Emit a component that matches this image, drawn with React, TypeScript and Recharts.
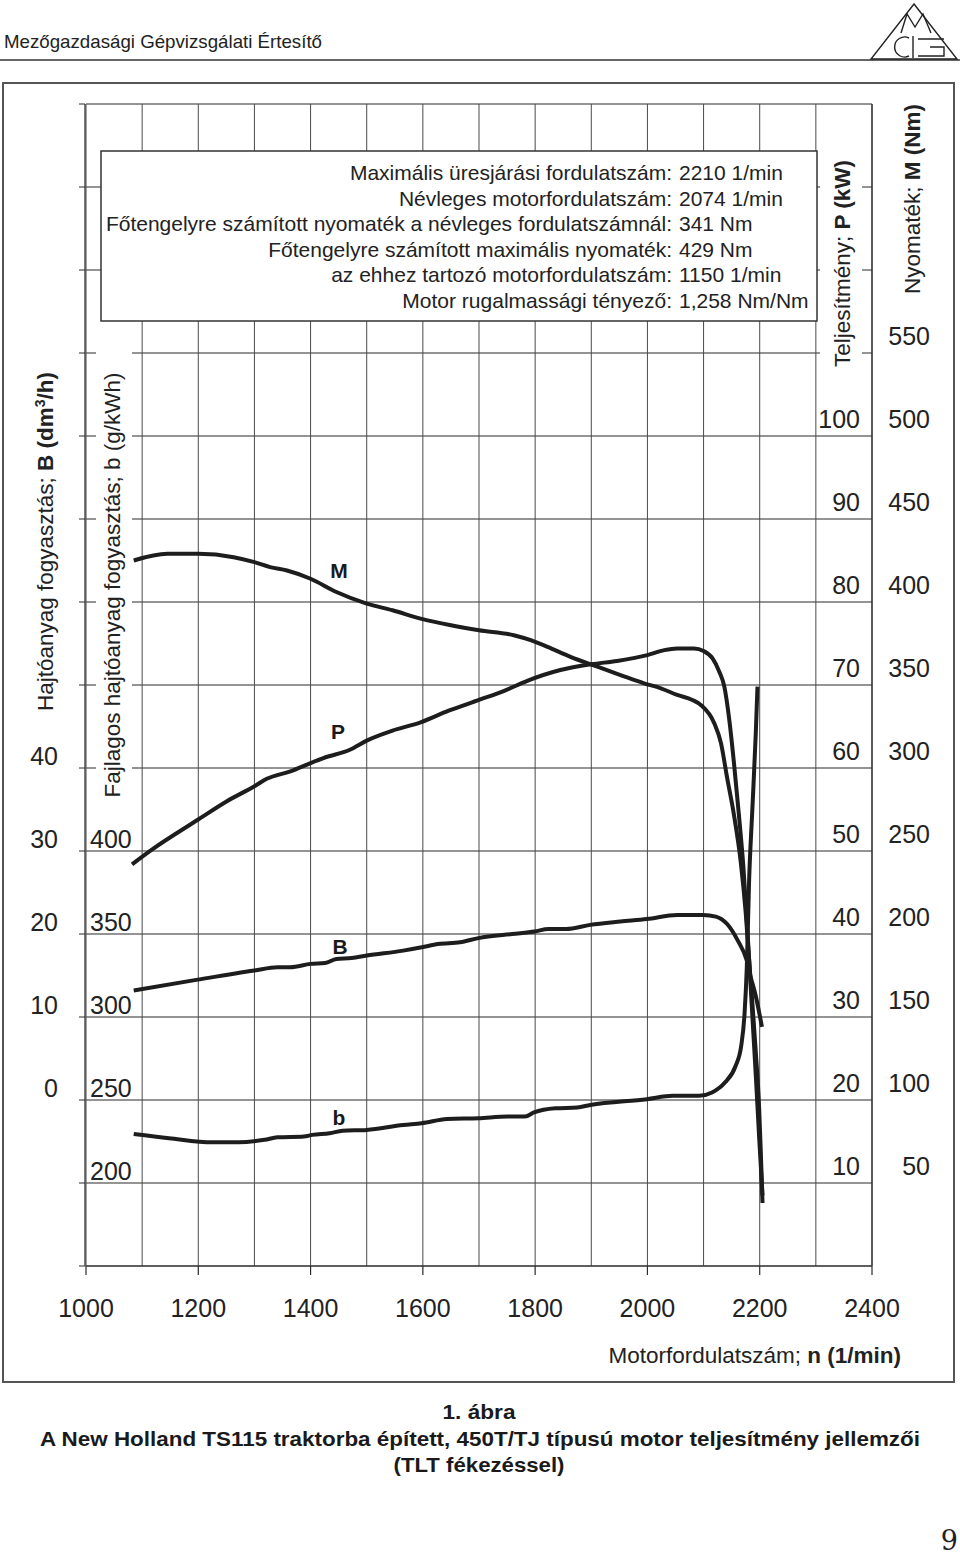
import { ComposedChart, Line, XAxis, YAxis, CartesianGrid } from "recharts";

const FONT = '"Liberation Sans", Arial, Helvetica, sans-serif';
const INK = "#1d1d1d";
const GRID = "#2a2a2a";

const W = 960;
const H = 1555;
const PLOT_LEFT = 86;
const PLOT_RIGHT = 872;
const PLOT_TOP = 104;
const PLOT_BOTTOM = 1266;
// the axes need a size above zero, otherwise recharts skips them
const AXIS_W = 1;

// M - nyomaték (Nm)
const torqueRpm = [1085, 1145, 1200, 1263, 1300, 1328, 1358, 1400, 1446, 1500, 1546, 1596, 1650, 1700, 1762, 1792, 1822, 1863, 1911, 1952, 1994, 2024, 2053, 2080, 2095, 2119, 2131, 2142, 2154, 2166, 2175, 2181, 2187, 2193, 2199, 2202, 2205];
const torqueNm = [425, 429, 429, 427, 424, 421, 419, 414, 406, 399, 395, 390, 386, 383, 380, 377, 373, 367, 361, 356, 351, 348, 344, 341, 338, 327, 315, 294, 272, 244, 213, 185, 158, 129, 95, 68, 38];

// P - teljesítmény (kW)
const powerRpm = [1082, 1118, 1200, 1251, 1300, 1322, 1364, 1400, 1423, 1470, 1500, 1546, 1596, 1646, 1700, 1745, 1786, 1845, 1900, 1946, 2000, 2030, 2053, 2083, 2100, 2116, 2128, 2137, 2146, 2154, 2163, 2171, 2177, 2181, 2187, 2193, 2199, 2205];
const powerKw = [48.4, 50.2, 53.8, 56.0, 57.8, 58.7, 59.6, 60.6, 61.2, 62.2, 63.3, 64.5, 65.5, 66.9, 68.2, 69.3, 70.5, 71.8, 72.5, 72.9, 73.6, 74.2, 74.4, 74.4, 74.1, 73.2, 71.6, 69.8, 65.7, 60.7, 54.3, 48.0, 41.6, 37.1, 30, 23, 15.5, 8.5];

// B - hajtóanyag fogyasztás (dm3/h)
const fuelRpm = [1085, 1199, 1300, 1341, 1364, 1400, 1426, 1446, 1473, 1500, 1565, 1598, 1627, 1666, 1699, 1759, 1799, 1824, 1855, 1898, 1952, 1999, 2053, 2099, 2122, 2142, 2161, 2177, 2184, 2192, 2204];
const fuelDm3 = [13.2, 14.5, 15.6, 16.0, 16.0, 16.4, 16.5, 17.0, 17.1, 17.4, 18.0, 18.4, 18.8, 19.0, 19.5, 20.0, 20.3, 20.6, 20.6, 21.1, 21.5, 21.8, 22.3, 22.3, 22.1, 21.2, 19.2, 16.8, 14.8, 12.8, 8.8];

// b - fajlagos fogyasztás (g/kWh)
const sfcRpm = [1085, 1148, 1225, 1272, 1318, 1341, 1388, 1403, 1434, 1457, 1500, 1565, 1598, 1643, 1699, 1751, 1782, 1798, 1836, 1875, 1898, 1999, 2045, 2092, 2115, 2138, 2157, 2167, 2173, 2177, 2181, 2187, 2193, 2196];
const sfcG = [229.5, 227, 224.5, 224.5, 226, 227.5, 228, 229, 230, 231.5, 232, 235, 236, 238.5, 239, 240, 240, 242.5, 245, 245.5, 247, 250.5, 252.5, 252.5, 254.5, 260.5, 270.5, 282.5, 302, 330, 381, 426, 471, 499];

const rpmTicks = [1000, 1100, 1200, 1300, 1400, 1500, 1600, 1700, 1800, 1900, 2000, 2100, 2200, 2300, 2400];
const powerTicks = [0, 10, 20, 30, 40, 50, 60, 70, 80, 90, 100, 110, 120, 130, 140];
const torqueTicks = [0, 50, 100, 150, 200, 250, 300, 350, 400, 450, 500, 550, 600, 650, 700];
const fuelTicks = [-20, -10, 0, 10, 20, 30, 40, 50, 60, 70, 80, 90, 100, 110, 120];
const sfcTicks = [150, 200, 250, 300, 350, 400, 450, 500, 550, 600, 650, 700, 750, 800, 850];

const infoLabels = [
  "Maximális üresjárási fordulatszám:",
  "Névleges motorfordulatszám:",
  "Főtengelyre számított nyomaték a névleges fordulatszámnál:",
  "Főtengelyre számított maximális nyomaték:",
  "az ehhez tartozó motorfordulatszám:",
  "Motor rugalmassági tényező:",
];
const infoValues = ["2210 1/min", "2074 1/min", "341 Nm", "429 Nm", "1150 1/min", "1,258 Nm/Nm"];

const toRows = (xs: number[], ys: number[]) => xs.map((n, i) => ({ n, v: ys[i] }));

const torqueData = toRows(torqueRpm, torqueNm);
const powerData = toRows(powerRpm, powerKw);
const fuelData = toRows(fuelRpm, fuelDm3);
const sfcData = toRows(sfcRpm, sfcG);

const tickText = { fontFamily: FONT, fontSize: 25, fill: "#222" };

const RpmTick = (props: any) => {
  const { x, payload } = props;
  if (payload.value % 200 !== 0) return <g />;
  return (
    <g>
      <line x1={x} x2={x} y1={PLOT_BOTTOM} y2={PLOT_BOTTOM + 9} stroke={GRID} strokeWidth={1.2} />
      <text x={x} y={PLOT_BOTTOM + 51} textAnchor="middle" {...tickText}>
        {payload.value}
      </text>
    </g>
  );
};

const PowerTick = (props: any) => {
  const { y, payload } = props;
  const v = payload.value;
  if (v < 10 || v > 100) return <g />;
  return (
    <text x={PLOT_RIGHT - 12} y={y - 8} textAnchor="end" {...tickText}>
      {v}
    </text>
  );
};

const TorqueTick = (props: any) => {
  const { y, payload } = props;
  const v = payload.value;
  if (v < 50 || v > 550) return <g />;
  return (
    <text x={930} y={y - 8} textAnchor="end" {...tickText}>
      {v}
    </text>
  );
};

const FuelTick = (props: any) => {
  const { y, payload } = props;
  const v = payload.value;
  if (v < 0 || v > 40) return <g />;
  return (
    <text x={58} y={y - 3.5} textAnchor="end" {...tickText}>
      {v}
    </text>
  );
};

const SfcTick = (props: any) => {
  const { y, payload } = props;
  const v = payload.value;
  if (v < 200 || v > 400) return <g />;
  return (
    <text x={90} y={y - 3} textAnchor="start" {...tickText}>
      {v}
    </text>
  );
};

const titleStyle = { fontFamily: FONT, fontSize: 22.5, fill: "#222" };

const Overlay = () => (
  <svg
    width={W}
    height={H}
    style={{ position: "absolute", left: 0, top: 0, pointerEvents: "none" }}
  >
    {/* fejléc */}
    <text x={4} y={48} fontFamily={FONT} fontSize={18.5} fill="#222" textLength={318} lengthAdjust="spacingAndGlyphs">
      Mezőgazdasági Gépvizsgálati Értesítő
    </text>
    <line x1={0} x2={W} y1={60} y2={60} stroke="#333" strokeWidth={1.5} />
    <g stroke="#222" strokeWidth={1.4} fill="none">
      <polygon points="914,4 871,59 957,59" />
      <polyline points="901,33 907,14 915,27 923,14 931,33" />
      <path d="M 909 38 A 10 10 0 1 0 909 56" />
      <line x1={913} x2={913} y1={36} y2={58} />
      <path d="M 944 39 L 918 39 M 918 56 L 944 56 L 944 47 L 930 47" />
    </g>

    <rect x={3} y={83} width={951} height={1299} fill="none" stroke="#555" strokeWidth={2} />

    {/* adatdoboz */}
    <rect x={101} y={151} width={716} height={170} fill="#fff" stroke="#333" strokeWidth={1.5} />
    {infoLabels.map((t, i) => (
      <text key={"l" + i} x={672} y={180 + i * 25.5} textAnchor="end" fontFamily={FONT} fontSize={21} fill="#222">
        {t}
      </text>
    ))}
    {infoValues.map((t, i) => (
      <text key={"v" + i} x={679} y={180 + i * 25.5} fontFamily={FONT} fontSize={21} fill="#222">
        {t}
      </text>
    ))}

    {/* tengelyfeliratok */}
    <text transform="translate(53,541.5) rotate(-90)" textAnchor="middle" {...titleStyle}>
      Hajtóanyag fogyasztás; <tspan fontWeight="bold">B (dm</tspan>
      <tspan fontWeight="bold" fontSize={14} dy={-8}>3</tspan>
      <tspan fontWeight="bold" dy={8}>/h)</tspan>
    </text>
    <rect x={96} y={348} width={36} height={458} fill="#fff" />
    <text transform="translate(120,585) rotate(-90)" textAnchor="middle" {...titleStyle}>
      Fajlagos hajtóanyag fogyasztás; b (g/kWh)
    </text>
    <rect x={820} y={145} width={42} height={227} fill="#fff" />
    <text transform="translate(850,263.5) rotate(-90)" textAnchor="middle" {...titleStyle}>
      Teljesítmény; <tspan fontWeight="bold">P (kW)</tspan>
    </text>
    <text transform="translate(920,199) rotate(-90)" textAnchor="middle" {...titleStyle}>
      Nyomaték; <tspan fontWeight="bold">M (Nm)</tspan>
    </text>
    <text x={901} y={1363} textAnchor="end" {...titleStyle}>
      Motorfordulatszám; <tspan fontWeight="bold">n (1/min)</tspan>
    </text>

    {/* görbék jelölése */}
    <g fontFamily={FONT} fontSize={21} fontWeight="bold" fill="#1a1a1a" textAnchor="middle">
      <text x={339} y={577.5}>M</text>
      <text x={338} y={738.5}>P</text>
      <text x={340} y={953.5}>B</text>
      <text x={339} y={1125}>b</text>
    </g>

    {/* ábraaláírás */}
    <g fontFamily={FONT} fontWeight="bold" fontSize={21} fill="#1a1a1a" textAnchor="middle">
      <text x={479} y={1419} textLength={73} lengthAdjust="spacingAndGlyphs">1. ábra</text>
      <text x={480} y={1446} textLength={880} lengthAdjust="spacingAndGlyphs">
        A New Holland TS115 traktorba épített, 450T/TJ típusú motor teljesítmény jellemzői
      </text>
      <text x={479} y={1472} textLength={171} lengthAdjust="spacingAndGlyphs">(TLT fékezéssel)</text>
    </g>
    <text x={958} y={1550} textAnchor="end" fontFamily='"DejaVu Serif", "Liberation Serif", serif' fontSize={27} fill="#222">
      9
    </text>
  </svg>
);

export default function App() {
  return (
    <div style={{ position: "absolute", left: 0, top: 0, width: W, height: H, background: "#fff" }}>
      <ComposedChart
        width={W}
        height={H}
        margin={{
          top: PLOT_TOP,
          left: PLOT_LEFT - 3 * AXIS_W,
          right: W - PLOT_RIGHT - AXIS_W,
          bottom: H - PLOT_BOTTOM - AXIS_W,
        }}
      >
        <CartesianGrid xAxisId="n" yAxisId="P" horizontal={true} vertical={false} stroke={GRID} strokeWidth={1.1} />
        <CartesianGrid xAxisId="n" yAxisId="P" horizontal={false} vertical={true} stroke="#4a4a4a" strokeWidth={1} />
        <XAxis
          xAxisId="n"
          dataKey="n"
          type="number"
          domain={[1000, 2400]}
          ticks={rpmTicks}
          interval={0}
          allowDataOverflow
          height={AXIS_W}
          tickSize={0}
          tickMargin={0}
          tickLine={false}
          axisLine={{ stroke: GRID, strokeWidth: 1.2 }}
          tick={(p: any) => <RpmTick {...p} />}
        />
        <YAxis
          yAxisId="P"
          orientation="left"
          type="number"
          domain={[0, 140]}
          ticks={powerTicks}
          interval={0}
          allowDataOverflow
          width={AXIS_W}
          tickSize={6}
          tickLine={{ stroke: GRID }}
          axisLine={{ stroke: GRID, strokeWidth: 1.2 }}
          tick={(p: any) => <PowerTick {...p} />}
        />
        <YAxis
          yAxisId="M"
          orientation="right"
          type="number"
          domain={[0, 700]}
          ticks={torqueTicks}
          interval={0}
          allowDataOverflow
          width={AXIS_W}
          tickLine={false}
          axisLine={{ stroke: GRID, strokeWidth: 1.2 }}
          tick={(p: any) => <TorqueTick {...p} />}
        />
        <YAxis
          yAxisId="B"
          orientation="left"
          type="number"
          domain={[-20, 120]}
          ticks={fuelTicks}
          interval={0}
          allowDataOverflow
          width={AXIS_W}
          tickLine={false}
          axisLine={false}
          tick={(p: any) => <FuelTick {...p} />}
        />
        <YAxis
          yAxisId="b"
          orientation="left"
          type="number"
          domain={[150, 850]}
          ticks={sfcTicks}
          interval={0}
          allowDataOverflow
          width={AXIS_W}
          tickLine={false}
          axisLine={false}
          tick={(p: any) => <SfcTick {...p} />}
        />
        <Line data={torqueData} dataKey="v" xAxisId="n" yAxisId="M" type="monotone" stroke={INK} strokeWidth={4} dot={false} isAnimationActive={false} />
        <Line data={powerData} dataKey="v" xAxisId="n" yAxisId="P" type="monotone" stroke={INK} strokeWidth={4} dot={false} isAnimationActive={false} />
        <Line data={fuelData} dataKey="v" xAxisId="n" yAxisId="B" type="monotone" stroke={INK} strokeWidth={4} dot={false} isAnimationActive={false} />
        <Line data={sfcData} dataKey="v" xAxisId="n" yAxisId="b" type="monotone" stroke={INK} strokeWidth={4} dot={false} isAnimationActive={false} />
      </ComposedChart>
      <Overlay />
    </div>
  );
}
